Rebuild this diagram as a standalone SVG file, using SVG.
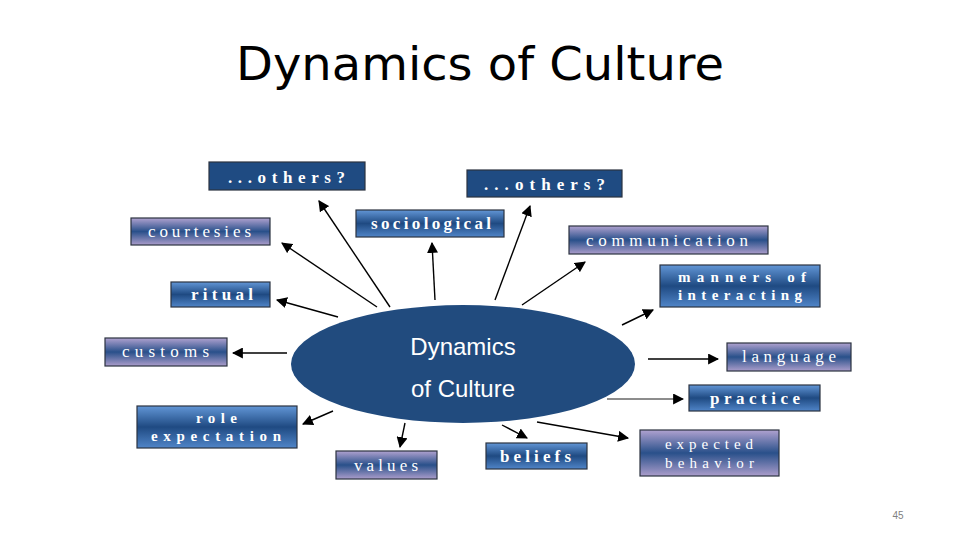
<svg xmlns="http://www.w3.org/2000/svg" width="960" height="540" viewBox="0 0 960 540">
<defs>
<linearGradient id="gBlue" x1="0" y1="0" x2="0" y2="1">
<stop offset="0" stop-color="#6296d6"/>
<stop offset="0.5" stop-color="#1f4a82"/>
<stop offset="1" stop-color="#5085c8"/>
</linearGradient>
<linearGradient id="gPurple" x1="0" y1="0" x2="0" y2="1">
<stop offset="0" stop-color="#b0a2d0"/>
<stop offset="0.5" stop-color="#29508a"/>
<stop offset="1" stop-color="#ab9dcb"/>
</linearGradient>
<marker id="ahb" viewBox="0 0 10 10" refX="9" refY="5" markerWidth="11" markerHeight="11" markerUnits="userSpaceOnUse" orient="auto">
<path d="M0,0 L10,5 L0,10 Z" fill="#000"/>
</marker>
</defs>
<style>
.box rect{stroke:#2b3240;stroke-width:1.2}
.blue rect{fill:url(#gBlue)}
.purple rect{fill:url(#gPurple)}
.solid rect{fill:#1f4b82}
.box text{font-family:"Liberation Serif","DejaVu Serif",serif;font-size:17px;fill:#ffffff}
.box text.two{font-size:15px}
.blue text,.solid text{font-weight:bold}
.conn line{stroke:#000;stroke-width:1.4;marker-end:url(#ahb)}
</style>
<rect width="960" height="540" fill="#ffffff"/>
<text x="480" y="80" font-family="'Comic Sans MS','DejaVu Sans',sans-serif" font-size="46" text-anchor="middle" textLength="488" lengthAdjust="spacingAndGlyphs" fill="#000">Dynamics of Culture</text>

<g id="connectors" class="conn">
<line x1="390" y1="307" x2="319" y2="201"/>
<line x1="377" y1="307" x2="282" y2="243"/>
<line x1="338" y1="317" x2="277" y2="300"/>
<line x1="435" y1="300" x2="432" y2="243"/>
<line x1="495" y1="300" x2="530" y2="206"/>
<line x1="522" y1="305" x2="585" y2="262"/>
<line x1="622" y1="325" x2="653" y2="310"/>
<line x1="648" y1="359" x2="718" y2="359"/>
<line x1="607" y1="399" x2="683" y2="399" style="stroke-width:0.9"/>
<line x1="502" y1="425" x2="527" y2="438"/>
<line x1="537" y1="422" x2="628" y2="438"/>
<line x1="287" y1="353" x2="233" y2="353"/>
<line x1="333" y1="411" x2="303" y2="424"/>
<line x1="405" y1="423" x2="400" y2="447"/>
</g>

<g id="center">
<ellipse cx="463" cy="364" rx="172" ry="59" fill="#214b7e"/>
<text x="463" y="355" font-family="'Liberation Sans',Arial,sans-serif" font-size="24" fill="#ffffff" text-anchor="middle">Dynamics</text>
<text x="463" y="397" font-family="'Liberation Sans',Arial,sans-serif" font-size="24" fill="#ffffff" text-anchor="middle">of Culture</text>
</g>

<g id="others-left" class="box solid"><rect x="209" y="162" width="156" height="28"/><text x="228" y="183" textLength="117" lengthAdjust="spacing">...others?</text></g>
<g id="others-right" class="box solid"><rect x="467" y="170" width="155" height="27"/><text x="484" y="190" textLength="121" lengthAdjust="spacing">...others?</text></g>
<g id="courtesies" class="box purple"><rect x="131" y="218" width="139" height="27"/><text x="148" y="237" textLength="103" lengthAdjust="spacing">courtesies</text></g>
<g id="sociological" class="box blue"><rect x="356" y="210" width="148" height="27"/><text x="371" y="229" textLength="120" lengthAdjust="spacing">sociological</text></g>
<g id="communication" class="box purple"><rect x="569" y="226" width="199" height="28"/><text x="586" y="246" textLength="162" lengthAdjust="spacing">communication</text></g>
<g id="manners" class="box blue"><rect x="660" y="265" width="160" height="42"/><text class="two" x="678" y="282" textLength="128" lengthAdjust="spacing">manners of</text><text class="two" x="678" y="300" textLength="124" lengthAdjust="spacing">interacting</text></g>
<g id="ritual" class="box blue"><rect x="171" y="282" width="99" height="25"/><text x="191" y="300" textLength="62" lengthAdjust="spacing">ritual</text></g>
<g id="customs" class="box purple"><rect x="105" y="338" width="122" height="28"/><text x="122" y="357" textLength="87" lengthAdjust="spacing">customs</text></g>
<g id="language" class="box purple"><rect x="727" y="343" width="124" height="28"/><text x="742" y="362" textLength="94" lengthAdjust="spacing">language</text></g>
<g id="practice" class="box blue"><rect x="689" y="385" width="131" height="26"/><text x="710" y="404" textLength="90" lengthAdjust="spacing">practice</text></g>
<g id="role" class="box blue"><rect x="137" y="406" width="160" height="42"/><text class="two" x="196" y="423" textLength="41" lengthAdjust="spacing">role</text><text class="two" x="151" y="441" textLength="130" lengthAdjust="spacing">expectation</text></g>
<g id="values" class="box purple"><rect x="336" y="451" width="101" height="28"/><text x="354" y="471" textLength="64" lengthAdjust="spacing">values</text></g>
<g id="beliefs" class="box blue"><rect x="486" y="443" width="101" height="26"/><text x="500" y="462" textLength="71" lengthAdjust="spacing">beliefs</text></g>
<g id="expected" class="box purple"><rect x="640" y="430" width="139" height="46"/><text class="two" x="665" y="449" textLength="88" lengthAdjust="spacing">expected</text><text class="two" x="665" y="468" textLength="89" lengthAdjust="spacing">behavior</text></g>

<text x="898" y="519" font-family="'Liberation Sans',Arial,sans-serif" font-size="10" fill="#7f7f7f" text-anchor="middle">45</text>
</svg>
